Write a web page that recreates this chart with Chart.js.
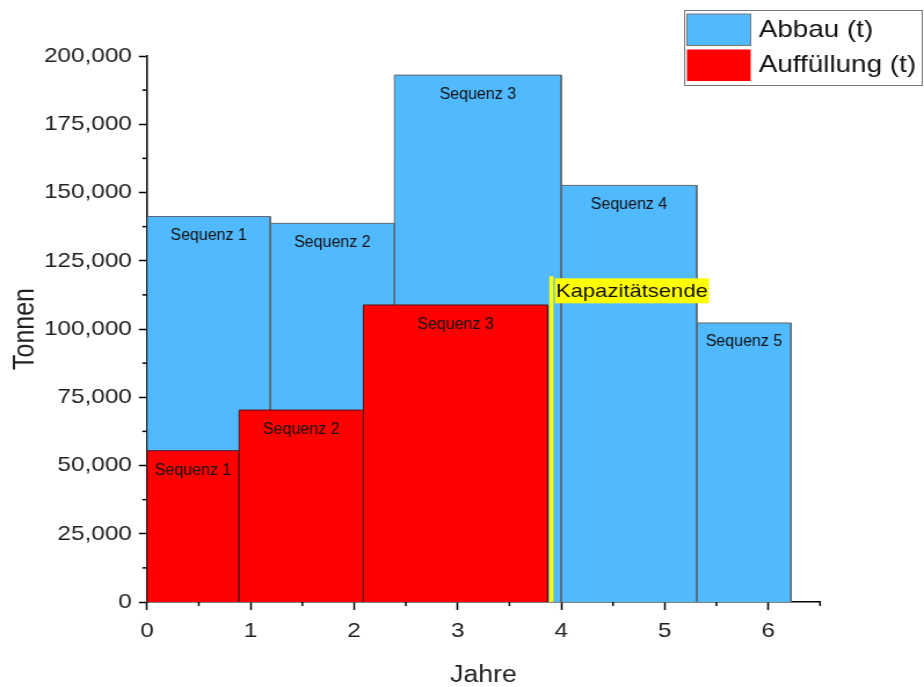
<!DOCTYPE html>
<html>
<head>
<meta charset="utf-8">
<script src="https://cdn.jsdelivr.net/npm/chart.js@4/dist/chart.umd.min.js"></script>
<style>
  html, body { margin: 0; padding: 0; background: #fff; }
  #diagramm { display: block; }
</style>
</head>
<body>
<!-- die Vorlage ist horizontal gestreckt, daher Canvas schmaler rendern und per CSS strecken -->
<canvas id="diagramm" width="797" height="687" style="width:924px;height:687px"></canvas>
<script>
const sequenzen = ['Sequenz 1', 'Sequenz 2', 'Sequenz 3', 'Sequenz 4', 'Sequenz 5'];

// Abbau (t): Beginn/Ende in Jahren und Tonnen
const abbauVon = [0, 1.19, 2.39, 4.0, 5.31];
const abbauBis = [1.19, 2.39, 4.0, 5.31, 6.22];
const abbauTonnen = [141200, 138700, 193000, 152600, 102200];

// Auffüllung (t)
const auffVon = [0, 0.89, 2.09];
const auffBis = [0.89, 2.09, 3.87];
const auffTonnen = [55400, 70300, 108800];

// Kapazitätsende
const kapazitaetJahr = 3.905;
const kapazitaetTonnen = 119300;

const STRECKUNG = 924 / 797;
const SCHRIFT = "'Liberation Sans', Arial, sans-serif";
const BLAU = '#51B9FE';
const ROT = '#FF0000';

function rechteck(von, bis, wert) {
  return [{x: von, y: 0}, {x: von, y: wert}, {x: bis, y: wert}, {x: bis, y: 0}];
}

const datasets = [];
abbauTonnen.forEach((v, i) => {
  datasets.push({
    label: 'Abbau (t)',
    data: rechteck(abbauVon[i], abbauBis[i], v),
    backgroundColor: BLAU,
    borderColor: '#5d6670',
    borderWidth: 1,
    fill: 'origin',
    pointRadius: 0,
    order: 3
  });
});
auffTonnen.forEach((v, i) => {
  datasets.push({
    label: 'Auffüllung (t)',
    data: rechteck(auffVon[i], auffBis[i], v),
    backgroundColor: ROT,
    borderColor: '#5a1010',
    borderWidth: 1,
    fill: 'origin',
    pointRadius: 0,
    order: 2
  });
});
datasets.push({
  label: 'Kapazitätsende',
  data: [{x: kapazitaetJahr, y: 0}, {x: kapazitaetJahr, y: kapazitaetTonnen}],
  borderColor: '#FFFF00',
  borderWidth: 3.5,
  fill: false,
  pointRadius: 0,
  order: 1
});

const istHauptY = v => v % 25000 === 0;
const istHauptX = v => Number.isInteger(v);

// kurze Nebenstriche an den Achsen
const nebenstriche = {
  id: 'nebenstriche',
  afterDraw(chart) {
    const {ctx, scales: {x, y}} = chart;
    ctx.save();
    ctx.strokeStyle = '#000';
    ctx.lineWidth = 1.5;
    x.ticks.forEach(t => {
      if (istHauptX(t.value)) return;
      const px = x.getPixelForValue(t.value);
      ctx.beginPath(); ctx.moveTo(px, x.top); ctx.lineTo(px, x.top + 4); ctx.stroke();
    });
    y.ticks.forEach(t => {
      if (istHauptY(t.value)) return;
      const py = y.getPixelForValue(t.value);
      ctx.beginPath(); ctx.moveTo(y.right, py); ctx.lineTo(y.right - 4, py); ctx.stroke();
    });
    ctx.restore();
  }
};

// Beschriftungen in den Balken und Kapazitätsende
const beschriftung = {
  id: 'beschriftung',
  afterDatasetsDraw(chart) {
    const {ctx, scales: {x, y}} = chart;
    ctx.save();
    ctx.fillStyle = '#111';
    ctx.font = '16px ' + SCHRIFT;
    ctx.textAlign = 'center';
    ctx.textBaseline = 'middle';
    const schreib = (text, px, py) => {
      ctx.save();
      ctx.translate(px, py);
      ctx.scale(1 / STRECKUNG, 1);
      ctx.fillText(text, 0, 0);
      ctx.restore();
    };
    abbauTonnen.forEach((v, i) => {
      schreib(sequenzen[i], x.getPixelForValue((abbauVon[i] + abbauBis[i]) / 2), y.getPixelForValue(v) + 19);
    });
    auffTonnen.forEach((v, i) => {
      schreib(sequenzen[i], x.getPixelForValue((auffVon[i] + auffBis[i]) / 2), y.getPixelForValue(v) + 20);
    });

    const lx = x.getPixelForValue(kapazitaetJahr) + 3;
    const ly = y.getPixelForValue(kapazitaetTonnen) + 2;
    ctx.font = '19px ' + SCHRIFT;
    ctx.textAlign = 'left';
    const w = ctx.measureText('Kapazitätsende').width;
    ctx.fillStyle = '#FFFF00';
    ctx.fillRect(lx, ly, w + 2, 25);
    ctx.fillStyle = '#111';
    ctx.fillText('Kapazitätsende', lx + 1, ly + 13);
    ctx.restore();
  }
};

// Legende oben rechts mit Rahmen
const legende = {
  id: 'legende',
  afterDraw(chart) {
    const ctx = chart.ctx;
    ctx.save();
    ctx.strokeStyle = '#777';
    ctx.lineWidth = 1;
    ctx.strokeRect(590.5, 10.5, 205, 75);
    ctx.fillStyle = BLAU;
    ctx.fillRect(592.5, 14, 55, 31.5);
    ctx.strokeRect(592.5, 14, 55, 31.5);
    ctx.fillStyle = ROT;
    ctx.fillRect(592.5, 49.5, 55, 31.5);
    ctx.font = '24px ' + SCHRIFT;
    ctx.fillStyle = '#111';
    ctx.textBaseline = 'middle';
    ctx.fillText('Abbau (t)', 654.5, 30.5);
    ctx.fillText('Auffüllung (t)', 654.5, 65);
    ctx.restore();
  }
};

new Chart(document.getElementById('diagramm'), {
  type: 'line',
  data: {datasets},
  plugins: [nebenstriche, beschriftung, legende],
  options: {
    responsive: false,
    animation: false,
    layout: {padding: {top: 56, right: 89.7, left: 0, bottom: 0}},
    plugins: {
      legend: {display: false},
      tooltip: {enabled: false}
    },
    scales: {
      x: {
        type: 'linear',
        min: 0,
        max: 6.5,
        afterFit: s => { s.height = 85; },
        grid: {
          drawOnChartArea: false,
          tickLength: 8,
          tickWidth: 1.5,
          tickColor: c => istHauptX(c.tick.value) ? '#000' : 'rgba(0,0,0,0)'
        },
        border: {color: '#000', width: 1.5},
        ticks: {
          stepSize: 0.5,
          autoSkip: false,
          maxRotation: 0,
          padding: 9,
          color: '#222',
          font: {family: SCHRIFT, size: 21},
          callback: v => istHauptX(v) ? String(v) : ''
        },
        title: {
          display: true,
          text: 'Jahre',
          color: '#222',
          font: {family: SCHRIFT, size: 23, lineHeight: 1.0},
          padding: {top: 0, bottom: 0}
        }
      },
      y: {
        min: 0,
        max: 200000,
        afterFit: s => { s.width = 126.8; },
        grid: {
          drawOnChartArea: false,
          tickLength: 7,
          tickWidth: 1.5,
          tickColor: c => istHauptY(c.tick.value) ? '#000' : 'rgba(0,0,0,0)'
        },
        border: {color: '#000', width: 1.5},
        ticks: {
          stepSize: 12500,
          autoSkip: false,
          padding: 6,
          color: '#222',
          font: {family: SCHRIFT, size: 21},
          callback: v => istHauptY(v) ? v.toLocaleString('en-US') : ''
        },
        title: {
          display: true,
          text: 'Tonnen',
          color: '#222',
          font: {family: SCHRIFT, size: 25},
          padding: {top: 7, bottom: 0}
        }
      }
    }
  }
});
</script>
</body>
</html>
